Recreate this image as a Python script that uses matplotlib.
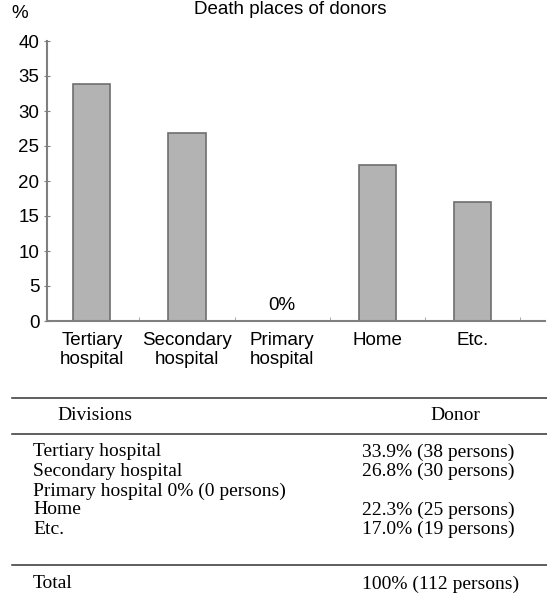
import matplotlib
matplotlib.use('Agg')
import matplotlib.pyplot as plt
from matplotlib.lines import Line2D

# chart data
places = ['Tertiary\nhospital', 'Secondary\nhospital', 'Primary\nhospital', 'Home', 'Etc.']
percent = [33.9, 26.8, 0, 22.3, 17.0]
yticks = [0, 5, 10, 15, 20, 25, 30, 35, 40]

# table data
divisions = ['Tertiary hospital', 'Secondary hospital', 'Primary hospital 0% (0 persons)', 'Home', 'Etc.']
donor = ['33.9% (38 persons)', '26.8% (30 persons)', '', '22.3% (25 persons)', '17.0% (19 persons)']
total = ['Total', '100% (112 persons)']

W, H = 547, 599
fig = plt.figure(figsize=(W / 100, H / 100), dpi=100)
ax = fig.add_axes([47 / W, 1 - 321 / H, 498 / W, 280 / H])

x = list(range(len(places)))
ax.bar(x, percent, width=0.39, color='#b3b3b3', edgecolor='#6e6e6e', linewidth=1.2)
ax.set_xlim(-0.47, 4.76)
ax.set_ylim(0, 40)
ax.set_yticks(yticks)
ax.set_yticklabels([str(v) for v in yticks], fontsize=13.5, family='Liberation Sans')
ax.set_xticks(x)
ax.set_xticklabels(places, fontsize=13.5, family='Liberation Sans', linespacing=1.15)
ax.tick_params(axis='x', length=0, pad=8)
ax.tick_params(axis='y', direction='inout', length=5, color='#808080', pad=3)
ax.set_xticks([i + 0.5 for i in range(5)], minor=True)
ax.tick_params(axis='x', which='minor', direction='in', length=3, color='#999999')
for s in ['top', 'right']:
    ax.spines[s].set_visible(False)
for s in ['left', 'bottom']:
    ax.spines[s].set_color('#808080')
    ax.spines[s].set_linewidth(1.5)

for xi, v in zip(x, percent):
    if v == 0:
        ax.text(xi, 1.0, '0%', ha='center', va='bottom', fontsize=13.5, family='Liberation Sans')

fig.text(20 / W, 1 - 14 / H, '%', ha='center', va='center', fontsize=13.5, family='Liberation Sans')
fig.text(290 / W, 1 - 1 / H, 'Death places of donors', ha='center', va='top',
         fontsize=13.5, family='Liberation Sans')

# table below the chart
serif = 'Liberation Serif'
fs = 14
for yy in [398, 434, 565]:
    fig.add_artist(Line2D([12 / W, 1.0], [1 - yy / H, 1 - yy / H], color='#333333', linewidth=1.1))
fig.text(95 / W, 1 - 416 / H, 'Divisions', ha='center', va='center', fontsize=fs, family=serif)
fig.text(455 / W, 1 - 416 / H, 'Donor', ha='center', va='center', fontsize=fs, family=serif)
row_y = [452, 471, 491, 510, 529]
for yy, d, v in zip(row_y, divisions, donor):
    fig.text(33 / W, 1 - yy / H, d, ha='left', va='center', fontsize=fs, family=serif)
    fig.text(362 / W, 1 - yy / H, v, ha='left', va='center', fontsize=fs, family=serif)
fig.text(33 / W, 1 - 584 / H, total[0], ha='left', va='center', fontsize=fs, family=serif)
fig.text(362 / W, 1 - 584 / H, total[1], ha='left', va='center', fontsize=fs, family=serif)

fig.savefig('out.png', dpi=100)
